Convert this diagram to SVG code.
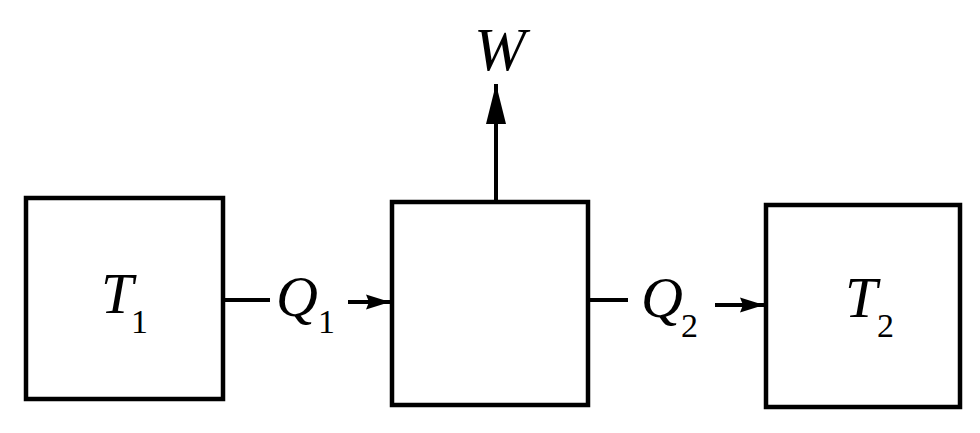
<svg xmlns="http://www.w3.org/2000/svg" width="980" height="433" viewBox="0 0 980 433">
<defs>
<marker id="ah" markerUnits="userSpaceOnUse" markerWidth="26" markerHeight="18" refX="24" refY="9" orient="auto">
<path d="M0,1.5 L24,9 L0,16.5 L3,9 Z" fill="#000"/>
</marker>
<marker id="ahw" markerUnits="userSpaceOnUse" markerWidth="42" markerHeight="24" refX="40" refY="11" orient="auto">
<path d="M0,1 L40,11 L0,21 Z" fill="#000"/>
</marker>
</defs>
<rect width="980" height="433" fill="#fff"/>
<g id="connectors" fill="none" stroke="#000" stroke-width="4">
<line x1="223" y1="300" x2="270" y2="300"/>
<line x1="348" y1="302" x2="390" y2="302" marker-end="url(#ah)"/>
<line x1="588" y1="300" x2="628" y2="300"/>
<line x1="715" y1="305" x2="764" y2="305" marker-end="url(#ah)"/>
<line x1="496" y1="202" x2="496" y2="84" marker-end="url(#ahw)"/>
</g>
<g id="T1">
<rect x="26" y="198" width="197" height="201" fill="none" stroke="#000" stroke-width="4.5"/>
<text x="101" y="313" font-family="Liberation Serif" font-size="58" font-style="italic">T<tspan x="131" y="333" font-size="34" font-style="normal">1</tspan></text>
</g>
<g id="engine">
<rect x="392" y="202" width="196" height="203" fill="none" stroke="#000" stroke-width="4.5"/>
</g>
<g id="T2">
<rect x="766" y="205" width="194" height="202" fill="none" stroke="#000" stroke-width="4.5"/>
</g>
<text x="845" y="317" font-family="Liberation Serif" font-size="58" font-style="italic">T</text>
<text x="877" y="337" font-family="Liberation Serif" font-size="34">2</text>
<text x="276" y="316" font-family="Liberation Serif" font-size="58" font-style="italic">Q<tspan x="318" y="333" font-size="34" font-style="normal">1</tspan></text>
<text x="641" y="317" font-family="Liberation Serif" font-size="58" font-style="italic">Q<tspan x="681" y="337" font-size="34" font-style="normal">2</tspan></text>
<text x="474" y="70" font-family="Liberation Serif" font-size="62" font-style="italic">W</text>
</svg>
